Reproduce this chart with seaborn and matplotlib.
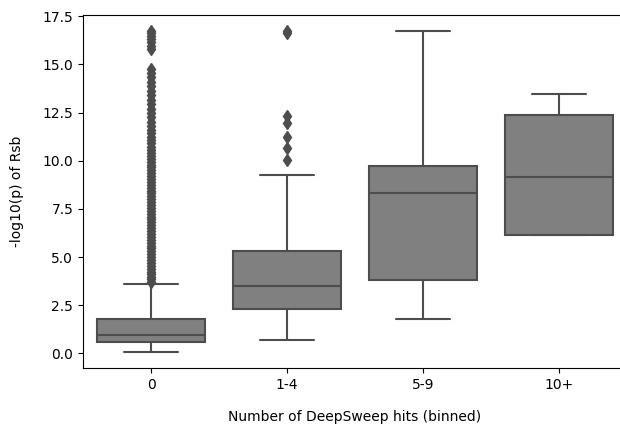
import matplotlib
matplotlib.use("Agg")
import matplotlib.pyplot as plt
import seaborn as sns

# Bins of DeepSweep hit counts
categories = ["0", "1-4", "5-9", "10+"]

# Box summaries per bin: lower whisker, Q1, median, Q3, upper whisker
whisker_low = [0.08, 0.69, 1.81, 6.17]
q1_values = [0.59, 2.29, 3.82, 6.17]
median_values = [0.98, 3.48, 8.35, 9.13]
q3_values = [1.81, 5.34, 9.71, 12.37]
whisker_high = [3.62, 9.28, 16.74, 13.48]

# Outlying -log10(p) values per bin
fliers_0 = [3.72, 3.85, 3.98, 4.1, 4.25, 4.4, 4.55, 4.7, 4.85, 5.0, 5.15, 5.3,
            5.45, 5.6, 5.75, 5.9, 6.05, 6.2, 6.35, 6.5, 6.65, 6.8, 6.95, 7.1,
            7.25, 7.4, 7.55, 7.7, 7.85, 8.0, 8.15, 8.3, 8.45, 8.6, 8.75, 8.9,
            9.05, 9.2, 9.35, 9.5, 9.65, 9.8, 9.95, 10.1, 10.25, 10.4, 10.55,
            10.7, 10.9, 11.05, 11.25, 11.45, 11.6, 11.8, 12.0, 12.25, 12.45,
            12.7, 12.95, 13.15, 13.4, 13.6, 13.85, 14.1, 14.35, 14.55, 14.75,
            15.8, 15.95, 16.15, 16.3, 16.45, 16.6, 16.72]
fliers_1_4 = [10.05, 10.65, 11.25, 11.95, 12.3, 16.6, 16.72]
fliers_5_9 = []
fliers_10 = []
fliers = [fliers_0, fliers_1_4, fliers_5_9, fliers_10]

sns.set_style("ticks", {
    "axes.edgecolor": "black", "axes.labelcolor": "black",
    "text.color": "black", "xtick.color": "black", "ytick.color": "black",
})
plt.rcParams["font.family"] = ["DejaVu Sans"]
plt.rcParams["font.size"] = 10

box_color = sns.desaturate("gray", 0.75)
line_color = (0.3, 0.3, 0.3)

stats = []
for i, name in enumerate(categories):
    stats.append({
        "label": name,
        "whislo": whisker_low[i], "q1": q1_values[i], "med": median_values[i],
        "q3": q3_values[i], "whishi": whisker_high[i], "fliers": fliers[i],
    })

fig = plt.figure(figsize=(6.2, 4.34), dpi=100)
# The plotting area runs past the right edge of the canvas
ax = fig.add_axes([83 / 620, 1 - 368 / 434, 544 / 620, (368 - 14.7) / 434])

ax.bxp(
    stats, positions=range(len(categories)), widths=0.8, patch_artist=True,
    boxprops={"facecolor": box_color, "edgecolor": line_color, "linewidth": 1.5},
    medianprops={"color": line_color, "linewidth": 1.5},
    whiskerprops={"color": line_color, "linewidth": 1.5},
    capprops={"color": line_color, "linewidth": 1.5},
    flierprops={"marker": "d", "markerfacecolor": line_color,
                "markeredgecolor": line_color, "markersize": 6.5},
)
ax.spines["right"].set_visible(False)
ax.set_xlim(-0.5, len(categories) - 0.5)
ax.set_xticks(range(len(categories)))
ax.set_xticklabels(categories)
ax.set_xlabel("Number of DeepSweep hits (binned)", labelpad=13)
ax.set_ylabel("-log10(p) of Rsb", labelpad=13)
ax.margins(y=0.05)

fig.savefig("out.png", dpi=100)
